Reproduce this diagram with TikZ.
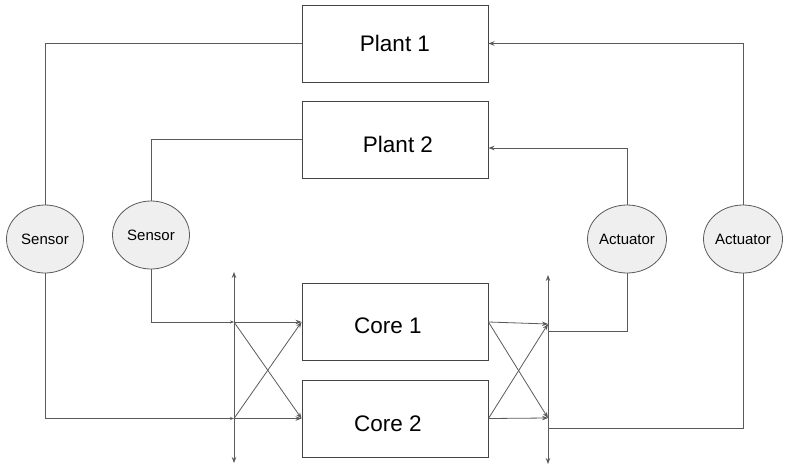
\documentclass[tikz,border=0pt]{standalone}
\usepackage{fontspec}
\setmainfont{Liberation Sans}
\usetikzlibrary{shapes.geometric,arrows.meta}
\definecolor{ln}{HTML}{5A5A5A}
\definecolor{bx}{HTML}{444444}
\definecolor{ef}{HTML}{EFEFEF}
\tikzset{
  box/.style={draw=bx,line width=0.9pt,minimum width=186pt,minimum height=77pt,inner sep=0pt},
  boxtext/.style={font=\fontsize{22.5}{26}\selectfont,inner sep=0pt},
  ell/.style={ellipse,draw=ln,fill=ef,line width=0.8pt,minimum width=77pt,minimum height=68pt,inner sep=0pt,font=\fontsize{15}{18}\selectfont},
  wire/.style={draw=ln,line width=0.8pt},
  arr/.style={wire,-{Stealth[length=6pt,width=4.5pt]}},
  sarr/.style={wire,-{Stealth[length=4pt,width=3pt]}},
  bus/.style={wire,{Stealth[length=6pt,width=4.5pt]}-{Stealth[length=6pt,width=4.5pt]}}
}
\begin{document}
\begin{tikzpicture}[x=1pt,y=-1pt]
\useasboundingbox (0,0) rectangle (792,471);
\node[box,label={[boxtext]center:Plant 1}] (p1) at (395,43.5) {};
\node[box,label={[boxtext,xshift=3pt,yshift=-4.5pt]center:Plant 2}] (p2) at (395,139.5) {};
\node[box,label={[boxtext,xshift=-7pt,yshift=-3.5pt]center:Core 1}] (c1) at (395,322) {};
\node[box,label={[boxtext,xshift=-7pt,yshift=-5pt]center:Core 2}] (c2) at (395,418.5) {};
\node[ell] (s1) at (45,239) {Sensor};
\node[ell] (s2) at (151,235) {Sensor};
\node[ell] (a1) at (627,239) {Actuator};
\node[ell] (a2) at (743,239) {Actuator};
\coordinate (lt) at (234,272);
\coordinate (lb) at (234,463);
\coordinate (rt) at (548,275);
\coordinate (rb) at (548,464);
\coordinate (bl1) at (234,322);
\coordinate (bl2) at (234,418.5);
\coordinate (br1) at (548,324);
\coordinate (br2) at (548,418);
\coordinate (ra1) at (548,331);
\coordinate (ra2) at (548,428);
% buses
\draw[bus] (lt) -- (lb);
\draw[bus] (rt) -- (rb);
% plant to sensors
\draw[wire] (p1.west) -| (s1.north);
\draw[wire] (p2.west) -| (s2.north);
% sensors to left bus
\draw[sarr] (s1.south) |- (bl2);
\draw[sarr] (s2.south) |- (bl1);
% left bus to cores
\draw[arr] (bl1) -- (c1.west);
\draw[arr] (bl2) -- (c2.west);
\draw[arr] (bl1) -- (c2.west);
\draw[arr] (bl2) -- (c1.west);
% cores to right bus
\draw[arr] (c1.east) -- (br1);
\draw[arr] (c2.east) -- (br2);
\draw[arr] (c1.east) -- (br2);
\draw[arr] (c2.east) -- (br1);
% right bus to actuators
\draw[wire] (ra1) -| (a1.south);
\draw[wire] (ra2) -| (a2.south);
% actuators to plants
\draw[arr] (a1.north) |- ([yshift=-8.5pt]p2.east);
\draw[arr] (a2.north) |- (p1.east);
\end{tikzpicture}
\end{document}
